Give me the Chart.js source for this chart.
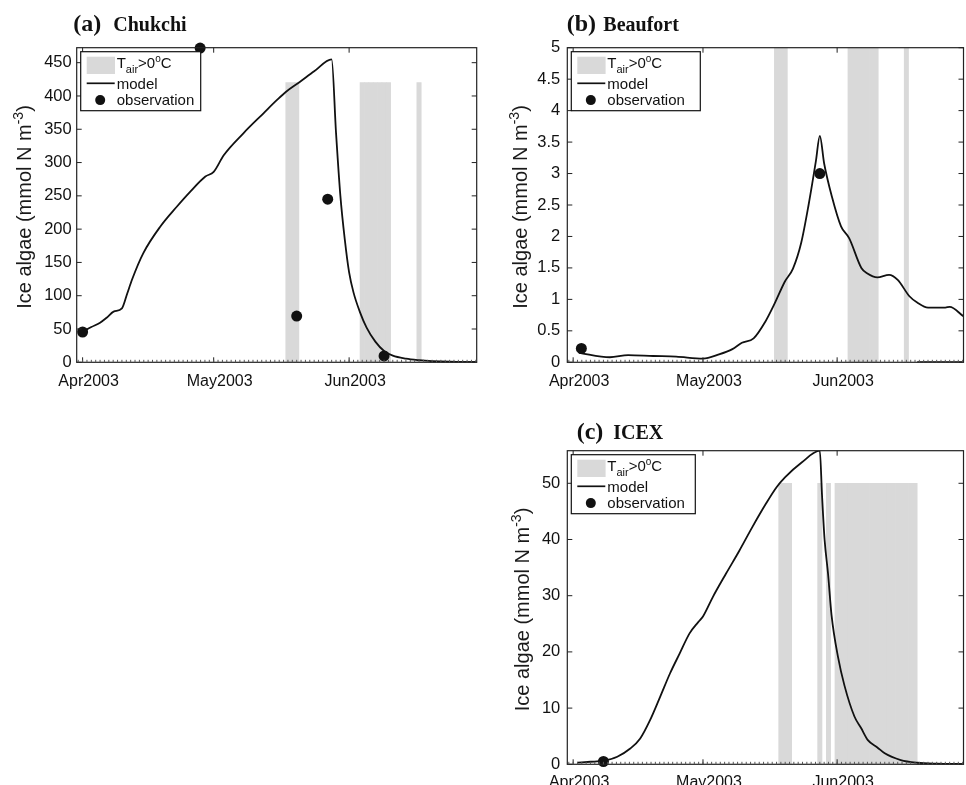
<!DOCTYPE html>
<html>
<head>
<meta charset="utf-8">
<script src="https://cdn.jsdelivr.net/npm/chart.js@4.4.1/dist/chart.umd.min.js"></script>
<style>
html, body { margin: 0; padding: 0; background: #fff; overflow: hidden; width: 966px; height: 785px; }
canvas { position: absolute; }
</style>
</head>
<body>
<canvas id="chukchi" width="483" height="400" style="left:0;top:0"></canvas>
<canvas id="beaufort" width="486" height="400" style="left:483px;top:0"></canvas>
<canvas id="icex" width="486" height="385" style="left:483px;top:400px"></canvas>
<script>
// days counted from 1 Apr 2003
const monthTickDays = [0, 30, 61];
const monthTickLabels = ['Apr2003', 'May2003', 'Jun2003'];
const xMin = -1.35;
const xMax = 90.2;
const zeroSegDays = [79.5, 90.2];

// (a) Chukchi
const chukchiDays = [0, 2, 4, 5.5, 7.1, 9, 10.2, 11.3, 13.9, 17.8, 21.6, 24.6, 28.1, 30, 32.3, 36.8, 41.4, 44.5, 46.5, 49.7, 53, 57, 58, 59, 60, 61, 62, 63.5, 65, 67, 69, 71, 74, 77, 80, 84, 90.2];
const chukchiModel = [46, 53, 59.5, 67, 76, 81, 103, 124, 164, 204, 234, 256, 279, 286, 311, 344, 374, 394, 406, 421, 437, 455, 345, 250, 185, 135, 105, 75, 52, 31, 17, 10, 5.5, 3.2, 1.8, 0.8, 0.2];
const chukchiObsDays = [0, 26.9, 49, 56.1, 69];
const chukchiObs = [45.5, 472, 69.5, 245, 9.5];
const chukchiWarmDays = [47, 48, 49, 64, 65, 66, 67, 68, 69, 70, 77];
const chukchiTicks = [0, 50, 100, 150, 200, 250, 300, 350, 400, 450];

// (b) Beaufort
const beaufortDays = [1.3, 8.5, 12.7, 18.5, 23.8, 30, 33.7, 36.8, 39, 41.7, 44.4, 46.6, 48.9, 50.8, 52.7, 54.4, 56.1, 57, 58, 59.8, 61.9, 63.8, 66.6, 68, 70.3, 73, 75, 77.7, 79.5, 82, 86, 87, 90.2];
const beaufortModel = [0.15, 0.08, 0.115, 0.10, 0.09, 0.057, 0.125, 0.21, 0.31, 0.38, 0.645, 0.94, 1.28, 1.49, 1.9, 2.5, 3.2, 3.6, 3.16, 2.63, 2.16, 1.97, 1.5, 1.41, 1.35, 1.39, 1.31, 1.05, 0.95, 0.87, 0.87, 0.88, 0.73];
const beaufortObsDays = [1.9, 57];
const beaufortObs = [0.22, 3.0];
const beaufortWarmDays = [47, 48, 49, 64, 65, 66, 67, 68, 69, 70, 77];
const beaufortTicks = [0, 0.5, 1, 1.5, 2, 2.5, 3, 3.5, 4, 4.5, 5];

// (c) ICEX
const icexDays = [1, 4, 7, 10.2, 13.2, 15.5, 17.8, 20.1, 22.4, 24.6, 26.9, 28.9, 30, 32.3, 35.3, 38.4, 41.4, 44.5, 47, 49, 52.8, 57, 57.5, 58.1, 58.9, 59.7, 61.2, 62.7, 65, 66.5, 68.1, 70.3, 72, 75.7, 79.5, 84, 90.2];
const icexModel = [0.3, 0.45, 0.64, 1.35, 2.8, 4.6, 7.9, 12, 16.2, 19.7, 23.3, 25.3, 26.3, 29.8, 33.9, 38, 42.2, 46.3, 49.3, 51.1, 53.7, 55.8, 48, 40, 33.9, 26.6, 19.1, 14, 8.5, 6.5, 4.3, 3, 1.95, 0.76, 0.28, 0.1, 0.04];
const icexObsDays = [7];
const icexObs = [0.5];
const icexWarmDays = [48, 49, 50, 57, 59, 61, 62, 63, 64, 65, 66, 67, 68, 69, 70, 71, 72, 73, 74, 75, 76, 77, 78, 79];
const icexTicks = [0, 10, 20, 30, 40, 50];

const WARM = '#d9d9d9';
const INK = '#111';
const SANS = "'Liberation Sans', Arial, Helvetica, sans-serif";
const SERIF = "'Liberation Serif', 'Times New Roman', serif";

const zip = (xs, ys) => xs.map((x, i) => ({ x: x, y: ys[i] }));

function partsWidth(ctx, parts) {
    let w = 0;
    parts.forEach(p => {
        ctx.font = p.size + 'px ' + SANS;
        w += ctx.measureText(p.t).width;
    });
    return w;
}

function drawParts(ctx, parts, x, y) {
    parts.forEach(p => {
        ctx.font = p.size + 'px ' + SANS;
        ctx.fillText(p.t, x, y + (p.dy || 0));
        x += ctx.measureText(p.t).width;
    });
}

const framePlugin = {
    id: 'frame',
    afterDraw(chart, args, opts) {
        const { ctx, chartArea: a } = chart;
        const x = chart.scales.x, y = chart.scales.y;
        ctx.save();

        // box + inward ticks on all sides
        ctx.strokeStyle = '#222';
        ctx.lineWidth = 1.2;
        ctx.strokeRect(a.left, a.top, a.right - a.left, a.bottom - a.top);
        ctx.lineWidth = 1;
        ctx.beginPath();
        x.ticks.forEach(t => {
            const px = x.getPixelForValue(t.value);
            ctx.moveTo(px, a.bottom); ctx.lineTo(px, a.bottom - 5);
            ctx.moveTo(px, a.top); ctx.lineTo(px, a.top + 5);
        });
        y.ticks.forEach(t => {
            const py = y.getPixelForValue(t.value);
            ctx.moveTo(a.left, py); ctx.lineTo(a.left + 5, py);
            ctx.moveTo(a.right, py); ctx.lineTo(a.right - 5, py);
        });
        ctx.stroke();
        ctx.beginPath();
        ctx.strokeStyle = '#555';
        for (let d = Math.ceil(x.min); d <= x.max; d++) {
            const px = x.getPixelForValue(d);
            ctx.moveTo(px, a.bottom); ctx.lineTo(px, a.bottom - 2.5);
        }
        ctx.stroke();

        // legend
        const lx = a.left + 4, ly = a.top + 4, lh = 59;
        ctx.fillStyle = '#fff';
        ctx.fillRect(lx, ly, opts.legendWidth, lh);
        ctx.strokeStyle = INK;
        ctx.lineWidth = 1.2;
        ctx.strokeRect(lx, ly, opts.legendWidth, lh);
        ctx.fillStyle = WARM;
        ctx.fillRect(lx + 6, ly + 5, 28.3, 17.3);
        ctx.strokeStyle = INK;
        ctx.lineWidth = 1.7;
        ctx.beginPath();
        ctx.moveTo(lx + 6, ly + 31.6); ctx.lineTo(lx + 34, ly + 31.6);
        ctx.stroke();
        ctx.fillStyle = INK;
        ctx.beginPath();
        ctx.arc(lx + 19.5, ly + 48.4, 5, 0, Math.PI * 2);
        ctx.fill();
        ctx.textBaseline = 'alphabetic';
        ctx.textAlign = 'left';
        drawParts(ctx, [
            { t: 'T', size: 15 }, { t: 'air', size: 11, dy: 5.5 }, { t: '>0', size: 15 },
            { t: 'o', size: 10, dy: -6 }, { t: 'C', size: 15 }
        ], lx + 36, ly + 16);
        drawParts(ctx, [{ t: 'model', size: 15 }], lx + 36, ly + 37);
        drawParts(ctx, [{ t: 'observation', size: 15 }], lx + 36, ly + 53.5);

        // y axis title
        const yParts = [{ t: 'Ice algae (mmol N m', size: 20 }, { t: '-3', size: 14, dy: -8 }, { t: ')', size: 20 }];
        const w = partsWidth(ctx, yParts);
        ctx.save();
        ctx.translate(a.left + opts.yTitleOffset, (a.top + a.bottom) / 2 + 2);
        ctx.rotate(-Math.PI / 2);
        ctx.fillStyle = '#1a1a1a';
        drawParts(ctx, yParts, -w / 2, 0);
        ctx.restore();

        // panel title
        ctx.fillStyle = INK;
        ctx.font = 'bold 24px ' + SERIF;
        ctx.fillText(opts.tag, opts.tagX, opts.titleY);
        ctx.font = 'bold 20px ' + SERIF;
        ctx.fillText(opts.name, opts.nameX, opts.titleY);
        ctx.restore();
    }
};

function makePanel(id, p) {
    const canvas = document.getElementById(id);
    return new Chart(canvas, {
        type: 'line',
        data: {
            datasets: [
                {
                    label: 'observation',
                    data: zip(p.obsDays, p.obs),
                    showLine: false,
                    pointRadius: 5.5,
                    pointBackgroundColor: INK,
                    pointBorderWidth: 0,
                    clip: false,
                    order: 1
                },
                {
                    label: 'model',
                    data: zip(p.days, p.model),
                    borderColor: INK,
                    borderWidth: 1.8,
                    pointRadius: 0,
                    cubicInterpolationMode: 'monotone',
                    order: 2
                },
                {
                    label: 'zero',
                    data: zip(zeroSegDays, [0, 0]),
                    borderColor: INK,
                    borderWidth: 2,
                    pointRadius: 0,
                    order: 2
                },
                {
                    type: 'bar',
                    label: 'Tair>0C',
                    data: p.warmDays.map(d => ({ x: d, y: p.warmTop })),
                    backgroundColor: WARM,
                    borderWidth: 0,
                    barPercentage: 1,
                    categoryPercentage: 1,
                    order: 3
                }
            ]
        },
        options: {
            responsive: false,
            animation: false,
            events: [],
            layout: { padding: { left: 0, top: p.area.top, right: canvas.width - p.area.right, bottom: 0 } },
            scales: {
                x: {
                    type: 'linear',
                    min: xMin,
                    max: xMax,
                    offset: false,
                    grid: { display: false, drawTicks: false },
                    border: { display: false },
                    afterBuildTicks: s => { s.ticks = monthTickDays.map(v => ({ value: v })); },
                    afterFit: s => { s.height = canvas.height - p.area.bottom; },
                    ticks: {
                        callback: (v, i) => monthTickLabels[i],
                        font: { family: SANS, size: 16 },
                        color: INK,
                        padding: p.xPad,
                        labelOffset: 6,
                        maxRotation: 0,
                        autoSkip: false
                    }
                },
                y: {
                    type: 'linear',
                    min: 0,
                    max: p.yMax,
                    grid: { display: false, drawTicks: false },
                    border: { display: false },
                    afterBuildTicks: s => { s.ticks = p.yTicks.map(v => ({ value: v })); },
                    afterFit: s => { s.width = p.area.left; },
                    ticks: {
                        callback: v => String(v),
                        font: { family: SANS, size: 16.5 },
                        color: INK,
                        padding: p.yPad
                    }
                }
            },
            plugins: {
                legend: { display: false },
                tooltip: { enabled: false },
                frame: p.frame
            }
        },
        plugins: [framePlugin]
    });
}

makePanel('chukchi', {
    days: chukchiDays, model: chukchiModel, obsDays: chukchiObsDays, obs: chukchiObs,
    warmDays: chukchiWarmDays, warmTop: 420, yMax: 472.5, yTicks: chukchiTicks,
    area: { left: 76.7, top: 47.7, right: 476.7, bottom: 362.3 }, xPad: 10, yPad: 5,
    frame: { legendWidth: 120, yTitleOffset: -46, tag: '(a)', name: 'Chukchi', tagX: 73.3, nameX: 113.3, titleY: 30.7 }
});

makePanel('beaufort', {
    days: beaufortDays, model: beaufortModel, obsDays: beaufortObsDays, obs: beaufortObs,
    warmDays: beaufortWarmDays, warmTop: 5, yMax: 5, yTicks: beaufortTicks,
    area: { left: 84.3, top: 47.7, right: 484.3, bottom: 362.3 }, xPad: 10, yPad: 7,
    frame: { legendWidth: 129, yTitleOffset: -40, tag: '(b)', name: 'Beaufort', tagX: 83.7, nameX: 120.3, titleY: 30.7 }
});

makePanel('icex', {
    days: icexDays, model: icexModel, obsDays: icexObsDays, obs: icexObs,
    warmDays: icexWarmDays, warmTop: 50, yMax: 55.8, yTicks: icexTicks,
    area: { left: 84.3, top: 50.7, right: 484.3, bottom: 364.3 }, xPad: 9, yPad: 7,
    frame: { legendWidth: 124, yTitleOffset: -38, tag: '(c)', name: 'ICEX', tagX: 93.7, nameX: 130.3, titleY: 38.5 }
});
</script>
</body>
</html>
